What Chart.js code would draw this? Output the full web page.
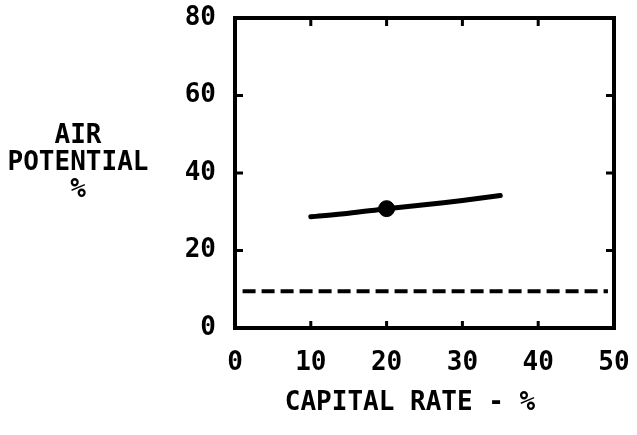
<!DOCTYPE html>
<html>
<head>
<meta charset="utf-8">
<script src="https://cdn.jsdelivr.net/npm/chart.js@4/dist/chart.umd.min.js"></script>
<style>
  html, body { margin: 0; padding: 0; background: #fff; }
  #wrap { width: 637px; height: 435px; }
</style>
</head>
<body>
<div id="wrap"><canvas id="chart" width="637" height="435"></canvas></div>
<script>
// ── Data ────────────────────────────────────────────────────
const capitalRate = [10, 15, 20, 25, 30, 35];
const airPotential = [28.7, 29.6, 30.8, 31.8, 32.9, 34.2];
const markerRate = [20];
const markerPotential = [30.8];
const dashedRate = [1, 49.2];
const dashedPotential = [9.5, 9.5];
const xTicks = [0, 10, 20, 30, 40, 50];
const yTicks = [0, 20, 40, 60, 80];
const yTitle = ['AIR', 'POTENTIAL', '%'];
const xTitle = 'CAPITAL RATE - %';

const FONT = '"DejaVu Sans Mono", "Liberation Mono", monospace';

const toXY = (xs, ys) => xs.map((x, i) => ({ x, y: ys[i] }));

// no extra room for half-labels: the layout padding places the plot box
function noLabelPadding(s) {
    s.paddingLeft = s.paddingRight = s.paddingTop = s.paddingBottom = 0;
}

// frame, inward ticks and titles
const framePlugin = {
    id: 'frame',
    afterDraw(chart) {
        const { ctx, chartArea: a, scales } = chart;
        ctx.save();
        ctx.strokeStyle = '#000';
        ctx.lineWidth = 4;
        ctx.strokeRect(a.left, a.top, a.right - a.left, a.bottom - a.top);
        ctx.lineWidth = 3;
        xTicks.slice(1, -1).forEach(v => {
            const px = scales.x.getPixelForValue(v);
            ctx.beginPath();
            ctx.moveTo(px, a.top); ctx.lineTo(px, a.top + 8);
            ctx.moveTo(px, a.bottom); ctx.lineTo(px, a.bottom - 7);
            ctx.stroke();
        });
        yTicks.slice(1, -1).forEach(v => {
            const py = scales.y.getPixelForValue(v);
            ctx.beginPath();
            ctx.moveTo(a.left, py); ctx.lineTo(a.left + 8, py);
            ctx.moveTo(a.right, py); ctx.lineTo(a.right - 8, py);
            ctx.stroke();
        });
        ctx.fillStyle = '#000';
        ctx.font = 'bold 26px ' + FONT;
        ctx.textAlign = 'center';
        ctx.textBaseline = 'middle';
        yTitle.forEach((t, i) => ctx.fillText(t, 78, 136 + i * 27));
        ctx.fillText(xTitle, 410, 403);
        ctx.restore();
    }
};

new Chart(document.getElementById('chart'), {
    type: 'scatter',
    data: {
        datasets: [
            {
                label: 'curve',
                data: toXY(capitalRate, airPotential),
                showLine: true,
                borderColor: '#000',
                borderWidth: 5,
                tension: 0.3,
                pointRadius: 0,
                borderCapStyle: 'round',
            },
            {
                label: 'marker',
                data: toXY(markerRate, markerPotential),
                pointRadius: 8,
                backgroundColor: '#000',
                borderColor: '#000',
            },
            {
                label: 'baseline',
                data: toXY(dashedRate, dashedPotential),
                showLine: true,
                borderColor: '#000',
                borderWidth: 4,
                borderDash: [13, 6],
                pointRadius: 0,
            },
        ],
    },
    options: {
        responsive: false,
        animation: false,
        layout: { padding: { left: 0, top: 18, right: 23, bottom: 0 } },
        plugins: { legend: { display: false }, tooltip: { enabled: false } },
        scales: {
            x: {
                type: 'linear', min: 0, max: 50,
                afterFit: s => { s.height = 107; noLabelPadding(s); },
                afterBuildTicks: s => { s.ticks = xTicks.map(v => ({ value: v })); },
                grid: { display: false, drawTicks: false },
                border: { display: false },
                ticks: { color: '#000', padding: 20, font: { family: FONT, size: 26, weight: 'bold' } },
            },
            y: {
                type: 'linear', min: 0, max: 80,
                afterFit: s => { s.width = 235; noLabelPadding(s); },
                afterBuildTicks: s => { s.ticks = yTicks.map(v => ({ value: v })); },
                grid: { display: false, drawTicks: false },
                border: { display: false },
                ticks: { color: '#000', padding: 19, font: { family: FONT, size: 26, weight: 'bold' } },
            },
        },
    },
    plugins: [framePlugin],
});
</script>
</body>
</html>
